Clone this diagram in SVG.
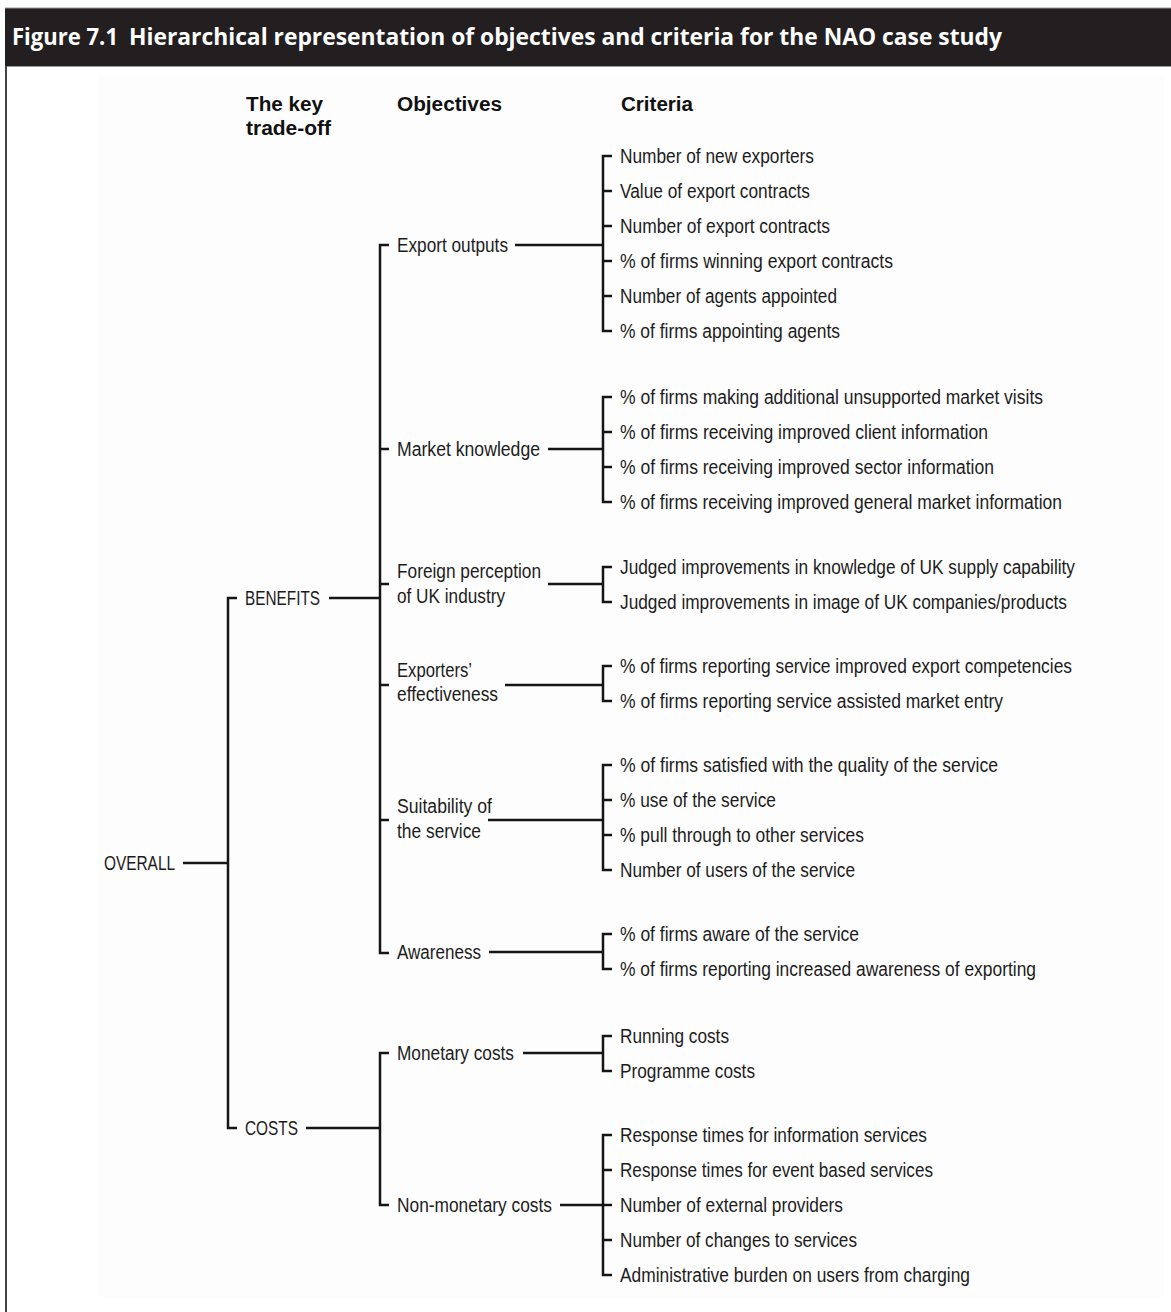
<svg xmlns="http://www.w3.org/2000/svg" width="1171" height="1312" viewBox="0 0 1171 1312">
<style>
.t{font-family:"Liberation Sans",Arial,sans-serif;font-size:20px;fill:#1c1c1c;}
.h{font-family:"Liberation Sans",Arial,sans-serif;font-size:20px;font-weight:bold;fill:#111;}
.title{font-family:"Open Sans","Liberation Sans",sans-serif;font-size:24px;font-weight:bold;fill:#fff;}
.c{fill:none;stroke:#151515;stroke-width:2.5;}
</style>
<rect x="0" y="0" width="1171" height="1312" fill="#fff"/>
<g id="frame">
<rect x="5" y="8" width="1166" height="58" fill="#231f20"/>
<line x1="5" y1="8" x2="1171" y2="8" stroke="#9a9a9a" stroke-width="1"/>
<line x1="5" y1="66.5" x2="1171" y2="66.5" stroke="#9a9a9a" stroke-width="1"/>
<line x1="6" y1="66" x2="6" y2="1312" stroke="#444" stroke-width="2"/>
<text class="title" x="12" y="45"><tspan textLength="106" lengthAdjust="spacingAndGlyphs">Figure 7.1</tspan><tspan x="129" textLength="873" lengthAdjust="spacingAndGlyphs">Hierarchical representation of objectives and criteria for the NAO case study</tspan></text>
</g>
<rect x="98" y="76" width="1066" height="1222" fill="#fdfdfd"/>
<g id="headers">
<text class="h" x="246" y="111" textLength="77" lengthAdjust="spacingAndGlyphs">The key</text>
<text class="h" x="246" y="135" textLength="85" lengthAdjust="spacingAndGlyphs">trade-off</text>
<text class="h" x="397" y="111" textLength="105" lengthAdjust="spacingAndGlyphs">Objectives</text>
<text class="h" x="621" y="111" textLength="72" lengthAdjust="spacingAndGlyphs">Criteria</text>
</g>
<g id="connectors">
<path class="c" d="M183,863 H228 M237,598 H228 V1128 H237"/>
<path class="c" d="M329,598 H380 M389,245 H380 V953 H389 M380,449 H389 M380,584 H389 M380,685 H389 M380,820 H389"/>
<path class="c" d="M306,1128 H380 M389,1053 H380 V1205 H389"/>
<path class="c" d="M515,245 H603 M548,449 H603 M548,584 H603 M505,685 H603 M488,820 H603 M489,952 H603 M523,1053 H603 M560,1205 H603"/>
<path class="c" d="M612,156 H603 V331 H612 M603,191 H612 M603,226 H612 M603,261 H612 M603,296 H612"/>
<path class="c" d="M612,397 H603 V502 H612 M603,432 H612 M603,467 H612"/>
<path class="c" d="M612,567 H603 V602 H612"/>
<path class="c" d="M612,666 H603 V701 H612"/>
<path class="c" d="M612,765 H603 V870 H612 M603,800 H612 M603,835 H612"/>
<path class="c" d="M612,934 H603 V969 H612"/>
<path class="c" d="M612,1036 H603 V1071 H612"/>
<path class="c" d="M612,1135 H603 V1275 H612 M603,1170 H612 M603,1205 H612 M603,1240 H612"/>
</g>
<g id="node-overall"><text class="t" x="104" y="870" textLength="71" lengthAdjust="spacingAndGlyphs">OVERALL</text></g>
<g id="node-benefits"><text class="t" x="245" y="605" textLength="75" lengthAdjust="spacingAndGlyphs">BENEFITS</text></g>
<g id="node-costs"><text class="t" x="245" y="1135" textLength="53" lengthAdjust="spacingAndGlyphs">COSTS</text></g>
<g id="obj-export-outputs"><text class="t" x="397" y="252" textLength="111" lengthAdjust="spacingAndGlyphs">Export outputs</text></g>
<g id="obj-market-knowledge"><text class="t" x="397" y="456" textLength="143" lengthAdjust="spacingAndGlyphs">Market knowledge</text></g>
<g id="obj-foreign-perception"><text class="t" x="397" y="578" textLength="144" lengthAdjust="spacingAndGlyphs">Foreign perception</text><text class="t" x="397" y="603" textLength="108" lengthAdjust="spacingAndGlyphs">of UK industry</text></g>
<g id="obj-exporters-effectiveness"><text class="t" x="397" y="677" textLength="75" lengthAdjust="spacingAndGlyphs">Exporters’</text><text class="t" x="397" y="701" textLength="101" lengthAdjust="spacingAndGlyphs">effectiveness</text></g>
<g id="obj-suitability"><text class="t" x="397" y="813" textLength="95" lengthAdjust="spacingAndGlyphs">Suitability of</text><text class="t" x="397" y="838" textLength="84" lengthAdjust="spacingAndGlyphs">the service</text></g>
<g id="obj-awareness"><text class="t" x="397" y="959" textLength="84" lengthAdjust="spacingAndGlyphs">Awareness</text></g>
<g id="obj-monetary-costs"><text class="t" x="397" y="1060" textLength="117" lengthAdjust="spacingAndGlyphs">Monetary costs</text></g>
<g id="obj-non-monetary-costs"><text class="t" x="397" y="1212" textLength="155" lengthAdjust="spacingAndGlyphs">Non-monetary costs</text></g>
<g id="criteria-export-outputs">
<text class="t" x="620" y="163" textLength="194" lengthAdjust="spacingAndGlyphs">Number of new exporters</text>
<text class="t" x="620" y="198" textLength="190" lengthAdjust="spacingAndGlyphs">Value of export contracts</text>
<text class="t" x="620" y="233" textLength="210" lengthAdjust="spacingAndGlyphs">Number of export contracts</text>
<text class="t" x="620" y="268" textLength="273" lengthAdjust="spacingAndGlyphs">% of firms winning export contracts</text>
<text class="t" x="620" y="303" textLength="217" lengthAdjust="spacingAndGlyphs">Number of agents appointed</text>
<text class="t" x="620" y="338" textLength="220" lengthAdjust="spacingAndGlyphs">% of firms appointing agents</text>
</g>
<g id="criteria-market-knowledge">
<text class="t" x="620" y="404" textLength="423" lengthAdjust="spacingAndGlyphs">% of firms making additional unsupported market visits</text>
<text class="t" x="620" y="439" textLength="368" lengthAdjust="spacingAndGlyphs">% of firms receiving improved client information</text>
<text class="t" x="620" y="474" textLength="374" lengthAdjust="spacingAndGlyphs">% of firms receiving improved sector information</text>
<text class="t" x="620" y="509" textLength="442" lengthAdjust="spacingAndGlyphs">% of firms receiving improved general market information</text>
</g>
<g id="criteria-foreign-perception">
<text class="t" x="620" y="574" textLength="455" lengthAdjust="spacingAndGlyphs">Judged improvements in knowledge of UK supply capability</text>
<text class="t" x="620" y="609" textLength="447" lengthAdjust="spacingAndGlyphs">Judged improvements in image of UK companies/products</text>
</g>
<g id="criteria-exporters-effectiveness">
<text class="t" x="620" y="673" textLength="452" lengthAdjust="spacingAndGlyphs">% of firms reporting service improved export competencies</text>
<text class="t" x="620" y="708" textLength="383" lengthAdjust="spacingAndGlyphs">% of firms reporting service assisted market entry</text>
</g>
<g id="criteria-suitability">
<text class="t" x="620" y="772" textLength="378" lengthAdjust="spacingAndGlyphs">% of firms satisfied with the quality of the service</text>
<text class="t" x="620" y="807" textLength="156" lengthAdjust="spacingAndGlyphs">% use of the service</text>
<text class="t" x="620" y="842" textLength="244" lengthAdjust="spacingAndGlyphs">% pull through to other services</text>
<text class="t" x="620" y="877" textLength="235" lengthAdjust="spacingAndGlyphs">Number of users of the service</text>
</g>
<g id="criteria-awareness">
<text class="t" x="620" y="941" textLength="239" lengthAdjust="spacingAndGlyphs">% of firms aware of the service</text>
<text class="t" x="620" y="976" textLength="416" lengthAdjust="spacingAndGlyphs">% of firms reporting increased awareness of exporting</text>
</g>
<g id="criteria-monetary-costs">
<text class="t" x="620" y="1043" textLength="109" lengthAdjust="spacingAndGlyphs">Running costs</text>
<text class="t" x="620" y="1078" textLength="135" lengthAdjust="spacingAndGlyphs">Programme costs</text>
</g>
<g id="criteria-non-monetary-costs">
<text class="t" x="620" y="1142" textLength="307" lengthAdjust="spacingAndGlyphs">Response times for information services</text>
<text class="t" x="620" y="1177" textLength="313" lengthAdjust="spacingAndGlyphs">Response times for event based services</text>
<text class="t" x="620" y="1212" textLength="223" lengthAdjust="spacingAndGlyphs">Number of external providers</text>
<text class="t" x="620" y="1247" textLength="237" lengthAdjust="spacingAndGlyphs">Number of changes to services</text>
<text class="t" x="620" y="1282" textLength="350" lengthAdjust="spacingAndGlyphs">Administrative burden on users from charging</text>
</g>
</svg>
